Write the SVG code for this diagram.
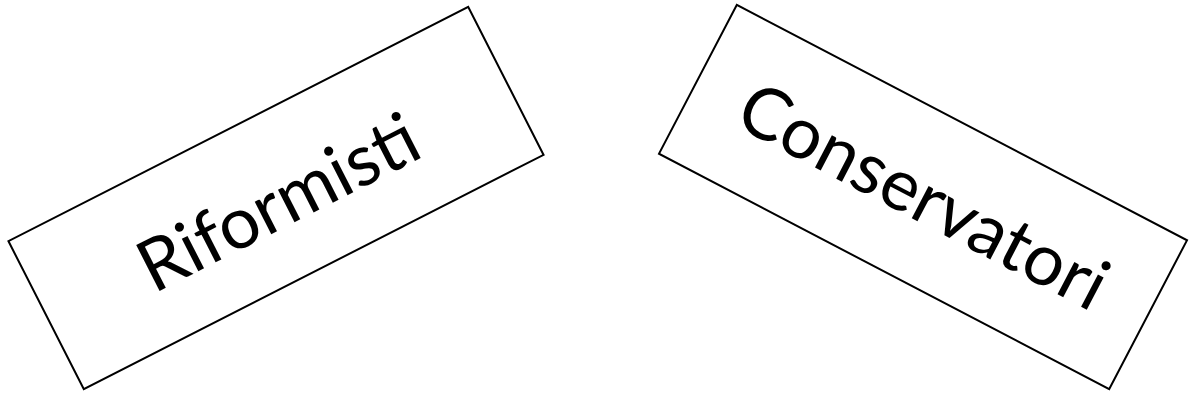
<svg xmlns="http://www.w3.org/2000/svg" width="1189" height="405" viewBox="0 0 1189 405">
<style>
.box{fill:#fff;stroke:#000;stroke-width:2}
.lbl{font-family:Lato,"Open Sans","Liberation Sans",sans-serif;font-size:72px;fill:#000;text-anchor:middle;dominant-baseline:central}
</style>
<rect width="1189" height="405" fill="#fff"/>
<g id="riformisti" transform="translate(276,198) rotate(-27)">
<rect class="box" x="-258" y="-83" width="516" height="166"/>
<text class="lbl" x="0" y="2">Riformisti</text>
</g>
<g id="conservatori" transform="translate(923,197) rotate(27.6)">
<rect class="box" x="-254" y="-84" width="508" height="168"/>
<text class="lbl" x="0" y="-4">Conservatori</text>
</g>
<g id="connectors"></g>
</svg>
